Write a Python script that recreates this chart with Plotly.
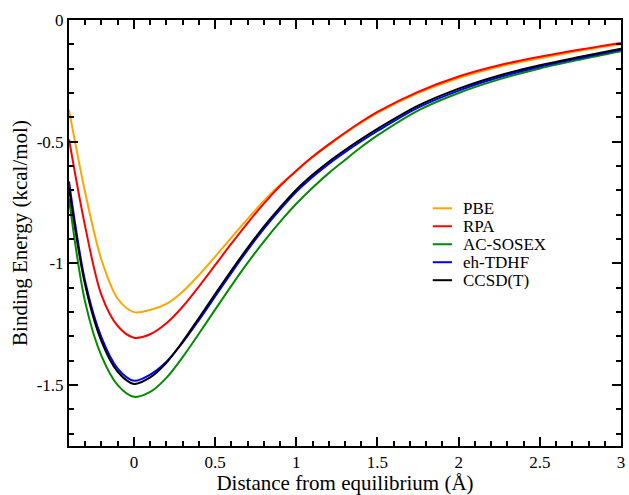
import plotly.graph_objects as go

# ---- data ----
x = [-0.4, -0.3, -0.2, -0.1, 0.0, 0.1, 0.2, 0.3, 0.4, 0.5, 0.6, 0.7, 0.8, 0.9,
     1.0, 1.1, 1.2, 1.3, 1.4, 1.5, 1.75, 2.0, 2.25, 2.5, 2.75, 3.0]

pbe = [-0.369, -0.71, -0.985, -1.145, -1.200, -1.191, -1.166, -1.116, -1.048, -0.972,
       -0.894, -0.817, -0.743, -0.677, -0.620, -0.564, -0.514, -0.466, -0.422, -0.381,
       -0.300, -0.238, -0.192, -0.157, -0.126, -0.100]
rpa = [-0.49, -0.85, -1.13, -1.257, -1.305, -1.291, -1.246, -1.178, -1.095, -1.007,
       -0.919, -0.834, -0.754, -0.682, -0.619, -0.562, -0.511, -0.463, -0.418, -0.377,
       -0.295, -0.232, -0.186, -0.151, -0.121, -0.094]
acsosex = [-0.735, -1.16, -1.38, -1.50, -1.548, -1.528, -1.470, -1.385, -1.289, -1.190,
           -1.092, -0.998, -0.910, -0.829, -0.755, -0.689, -0.629, -0.575, -0.522, -0.474,
           -0.372, -0.300, -0.244, -0.199, -0.162, -0.128]
ehtdhf = [-0.663, -1.075, -1.304, -1.432, -1.482, -1.457, -1.404, -1.325, -1.233, -1.136,
          -1.039, -0.945, -0.858, -0.779, -0.706, -0.645, -0.591, -0.543, -0.498, -0.456,
          -0.360, -0.290, -0.235, -0.192, -0.156, -0.122]
ccsdt = [-0.69, -1.09, -1.32, -1.445, -1.495, -1.468, -1.408, -1.321, -1.224, -1.126,
         -1.029, -0.936, -0.849, -0.770, -0.697, -0.636, -0.582, -0.534, -0.489, -0.447,
         -0.352, -0.282, -0.228, -0.186, -0.151, -0.118]

series_names = ["PBE", "RPA", "AC-SOSEX", "eh-TDHF", "CCSD(T)"]
series_values = [pbe, rpa, acsosex, ehtdhf, ccsdt]
series_colors = ["#FFA500", "#FF0000", "#008C00", "#0000FF", "#000000"]

x_tickvals = [0, 0.5, 1, 1.5, 2, 2.5, 3]
x_ticktext = ["0", "0.5", "1", "1.5", "2", "2.5", "3"]
y_tickvals = [0, -0.5, -1, -1.5]
y_ticktext = ["0", "-0.5", "-1", "-1.5"]

FONT = "Liberation Serif"

fig = go.Figure()
for name, vals, col in zip(series_names, series_values, series_colors):
    fig.add_trace(go.Scatter(x=x, y=vals, mode="lines", name=name,
                             line=dict(color=col, width=2, shape="spline", smoothing=0.9),
                             showlegend=False))

# legend drawn as annotations + short line samples (paper coordinates)
leg_y0 = 0.558
leg_dy = 0.0422
for i, (name, col) in enumerate(zip(series_names, series_colors)):
    yy = leg_y0 - i * leg_dy
    fig.add_shape(type="line", xref="paper", yref="paper",
                  x0=0.659, x1=0.694, y0=yy, y1=yy,
                  line=dict(color=col, width=2))
    fig.add_annotation(xref="paper", yref="paper", x=0.712, y=yy,
                       text=name, showarrow=False, xanchor="left", yanchor="middle",
                       height=18, borderpad=0,
                       font=dict(family=FONT, size=17, color="black"))

axis_common = dict(
    showgrid=False, zeroline=False,
    showline=True, linecolor="black", linewidth=2,
    mirror="ticks", ticks="inside", ticklen=9, tickwidth=2, tickcolor="black",
    tickfont=dict(family=FONT, size=17, color="black"),
    minor=dict(ticks="inside", ticklen=5, tickwidth=1.5, tickcolor="black",
               tickmode="linear", tick0=0, dtick=0.1, showgrid=False),
)

fig.update_layout(
    width=629, height=495,
    margin=dict(l=69, r=4, t=20, b=48),
    paper_bgcolor="white", plot_bgcolor="white",
    font=dict(family=FONT, color="black"),
    xaxis=dict(range=[-0.4, 3], tickmode="array", tickvals=x_tickvals, ticktext=x_ticktext,
               title=dict(text="Distance from equilibrium (Å)", font=dict(family=FONT, size=21),
                          standoff=4),
               **axis_common),
    yaxis=dict(range=[-1.75, 0], tickmode="array", tickvals=y_tickvals, ticktext=y_ticktext,
               title=dict(text="Binding Energy (kcal/mol)", font=dict(family=FONT, size=21),
                          standoff=3),
               **axis_common),
)

fig.write_html("out.html")
